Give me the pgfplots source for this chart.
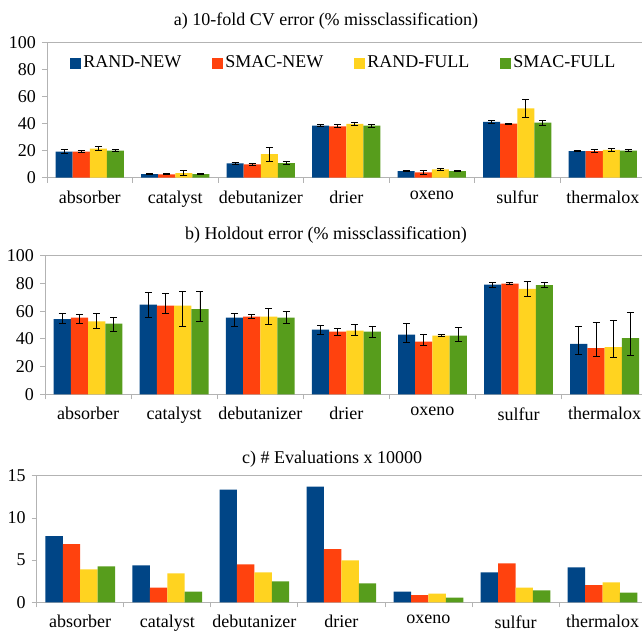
\documentclass[border=0pt]{standalone}
\usepackage{pgfplots}
\pgfplotsset{compat=1.18}
\usepackage{fontspec}
\setmainfont{Liberation Serif}

\definecolor{randnew}{HTML}{004586}
\definecolor{smacnew}{HTML}{FF420E}
\definecolor{randfull}{HTML}{FFD320}
\definecolor{smacfull}{HTML}{579D1C}
\definecolor{axgray}{HTML}{B3B3B3}

\pgfplotsset{
  panel/.style={
    scale only axis, anchor=south west,
    ybar=0pt, bar width=0.2,
    xmin=-0.5, xmax=6.5, ymin=0,
    axis x line*=box, axis y line*=left,
    axis line style={axgray, line width=0.8pt},
    xtick={0,...,6},
    xticklabels={absorber,catalyst,debutanizer,drier,oxeno,sulfur,thermalox},
    major x tick style={draw=none},
    minor xtick={-0.5,0.5,...,6.5},
    xtick pos=bottom, ytick pos=left,
    tick align=outside,
    major tick length=5pt, minor tick length=5pt,
    tick style={axgray, line width=0.8pt},
    /pgf/number format/assume math mode=true,
    x tick label style={yshift=-2pt},
  },
  sq/.style={legend image code/.code={\fill[##1] (0pt,-5.5pt) rectangle (11pt,5.5pt);}},
  errs/.style={
    error bars/.cd, y dir=both, y explicit,
    error bar style={black, line width=0.9pt},
    error mark options={rotate=90, black, mark size=3.5pt, line width=0.9pt},
  },
}

\begin{document}
\fontsize{18}{21}\selectfont
\begin{tikzpicture}
\path[use as bounding box] (0pt,0pt) rectangle (642pt,635pt);

\node at (326pt,614pt) {a) 10-fold CV error (\% missclassification)};
\node at (326pt,400pt) {b) Holdout error (\% missclassification)};
\node at (332pt,175.7pt) {c) \# Evaluations x 10000};

% a) CV error
\begin{axis}[panel,
  at={(47pt,457.3pt)}, width=598.5pt, height=135pt,
  ymax=100, ytick={0,20,...,100},
  legend columns=4,
  legend style={at={(0.496,0.847)}, anchor=center, draw=none, fill=none,
    /tikz/every even column/.append style={column sep=29pt},
    nodes={inner sep=2pt, xshift=2pt}},
]
\addplot[fill=randnew, draw=none, bar shift=-0.3, sq, errs] coordinates {
  (0,19.4) +- (0,1.5) (1,2.7) +- (0,0.3) (2,10.6) +- (0,0.8) (3,38.6) +- (0,1.0)
  (4,4.9) +- (0,0.3) (5,41.3) +- (0,1.2) (6,19.7) +- (0,0.5)};
\addplot[fill=smacnew, draw=none, bar shift=-0.1, sq, errs] coordinates {
  (0,19.4) +- (0,0.7) (1,2.5) +- (0,0.3) (2,9.8) +- (0,0.5) (3,38.1) +- (0,1.0)
  (4,3.9) +- (0,1.2) (5,40.0) +- (0,0.5) (6,19.7) +- (0,1.2)};
\addplot[fill=randfull, draw=none, bar shift=0.1, sq, errs] coordinates {
  (0,21.6) +- (0,1.6) (1,3.4) +- (0,1.8) (2,17.4) +- (0,5.2) (3,39.8) +- (0,1.2)
  (4,6.1) +- (0,1.0) (5,51.3) +- (0,6.4) (6,20.6) +- (0,1.2)};
\addplot[fill=smacfull, draw=none, bar shift=0.3, sq, errs] coordinates {
  (0,20.1) +- (0,0.7) (1,2.7) +- (0,0.3) (2,10.8) +- (0,1.0) (3,38.6) +- (0,1.2)
  (4,4.9) +- (0,0.3) (5,40.8) +- (0,1.8) (6,20.1) +- (0,0.5)};
\legend{RAND-NEW,SMAC-NEW,RAND-FULL,SMAC-FULL}
\end{axis}

% b) Holdout error
\begin{axis}[panel,
  at={(45pt,240.7pt)}, width=602.7pt, height=138.6pt,
  ymax=100, ytick={0,20,...,100},
]
\addplot[fill=randnew, draw=none, bar shift=-0.3, errs] coordinates {
  (0,54.3) += (0,3.7) -= (0,2.9)  (1,64.7) += (0,9.1) -= (0,9.4)
  (2,55.3) += (0,3.1) -= (0,6.5)  (3,46.6) += (0,3.2) -= (0,3.1)
  (4,43.0) += (0,8.4) -= (0,5.3)  (5,79.1) += (0,1.7) -= (0,1.7)
  (6,36.3) += (0,13.0) -= (0,7.5)};
\addplot[fill=smacnew, draw=none, bar shift=-0.1, errs] coordinates {
  (0,55.3) += (0,2.2) -= (0,3.9)  (1,64.0) += (0,8.8) -= (0,5.8)
  (2,56.0) += (0,1.5) -= (0,1.2)  (3,45.2) += (0,2.4) -= (0,2.4)
  (4,38.0) += (0,5.3) -= (0,2.9)  (5,79.8) += (0,0.7) -= (0,0.7)
  (6,33.4) += (0,18.3) -= (0,5.8)};
\addplot[fill=randfull, draw=none, bar shift=0.1, errs] coordinates {
  (0,52.6) += (0,5.6) -= (0,4.8)  (1,64.0) += (0,10.3) -= (0,15.4)
  (2,56.0) += (0,5.8) -= (0,5.8)  (3,45.9) += (0,4.8) -= (0,3.4)
  (4,42.3) += (0,1.2) -= (0,0.7)  (5,76.0) += (0,5.3) -= (0,5.3)
  (6,34.1) += (0,19.5) -= (0,7.7)};
\addplot[fill=smacfull, draw=none, bar shift=0.3, errs] coordinates {
  (0,51.0) += (0,4.5) -= (0,5.6)  (1,61.5) += (0,12.5) -= (0,8.6)
  (2,55.3) += (0,4.3) -= (0,4.3)  (3,45.2) += (0,4.1) -= (0,3.9)
  (4,42.3) += (0,6.0) -= (0,3.9)  (5,78.8) += (0,1.7) -= (0,1.4)
  (6,40.6) += (0,18.5) -= (0,12.5)};
\end{axis}

% c) Evaluations
\begin{axis}[panel,
  at={(36.7pt,32.7pt)}, width=609.4pt, height=126.6pt,
  ymax=15, ytick={0,5,10,15},
]
\addplot[fill=randnew, draw=none, bar shift=-0.3] coordinates {
  (0,7.85) (1,4.38) (2,13.35) (3,13.7) (4,1.27) (5,3.55) (6,4.14)};
\addplot[fill=smacnew, draw=none, bar shift=-0.1] coordinates {
  (0,6.9) (1,1.75) (2,4.5) (3,6.3) (4,0.84) (5,4.62) (6,2.03)};
\addplot[fill=randfull, draw=none, bar shift=0.1] coordinates {
  (0,3.9) (1,3.43) (2,3.55) (3,4.98) (4,1.04) (5,1.75) (6,2.35)};
\addplot[fill=smacfull, draw=none, bar shift=0.3] coordinates {
  (0,4.26) (1,1.27) (2,2.47) (3,2.23) (4,0.56) (5,1.4) (6,1.16)};
\end{axis}
\end{tikzpicture}
\end{document}
